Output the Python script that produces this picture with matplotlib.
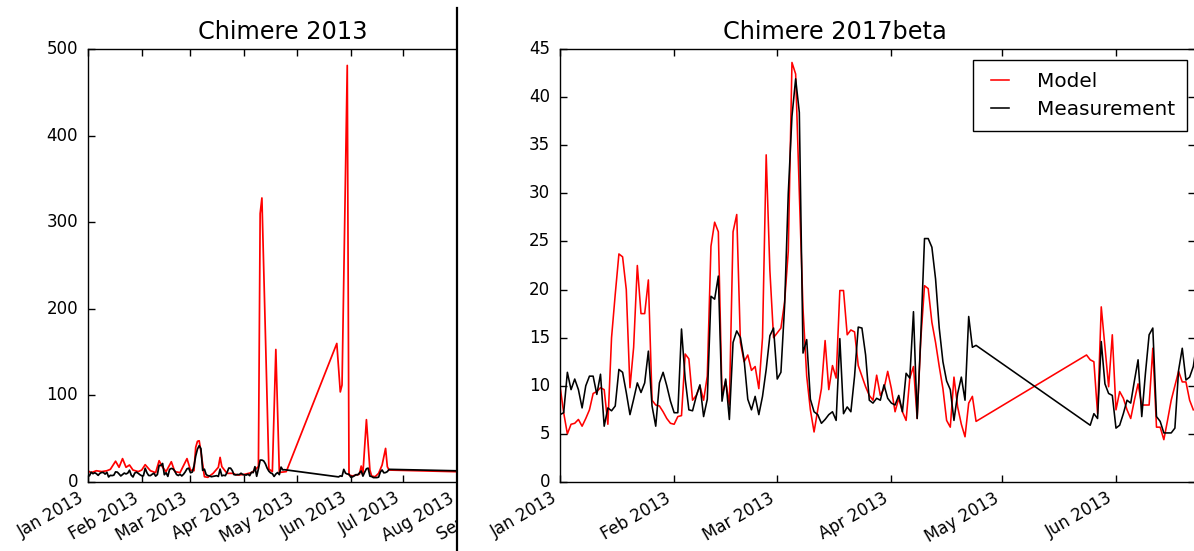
import numpy as np
import matplotlib
matplotlib.use("Agg")
import matplotlib.pyplot as plt
import matplotlib.dates as mdates
from matplotlib.patches import Rectangle
from matplotlib.lines import Line2D

# ---------------- data ----------------
START = np.datetime64("2013-01-01")

# Measurement (daily), first block starts on day 0 (1 Jan 2013)
meas_block1 = [
    7.0, 7.2, 11.4, 9.6, 10.7, 9.6, 7.7, 10.0, 11.0, 11.0,
    9.1, 11.2, 5.8, 7.7, 7.4, 7.9, 11.7, 11.4, 9.3, 7.0,
    8.6, 10.3, 9.3, 10.3, 13.6, 7.9, 5.8, 10.3, 11.4, 10.0,
    8.4, 7.2, 7.2, 15.9, 10.7, 7.5, 7.4, 8.9, 10.1, 6.8,
    8.6, 19.3, 19.0, 21.4, 8.4, 10.7, 6.5, 14.5, 15.7, 15.0,
    12.7, 8.6, 7.5, 8.9, 7.0, 8.9, 11.7, 15.2, 16.0, 10.7,
    11.4, 18.3, 30.0, 38.0, 41.9, 38.4, 13.4, 14.8, 8.6, 7.3,
    7.0, 6.1, 6.5, 7.0, 7.3, 6.4, 14.9, 7.1, 7.8, 7.3,
    11.0, 16.1, 16.0, 13.2, 8.5, 8.2, 8.7, 8.5, 10.1, 8.7,
    8.2, 8.0, 9.0, 7.3, 11.3, 10.8, 17.7, 6.6, 15.3, 25.3,
    25.3, 24.4, 21.1, 16.0, 12.5, 10.5, 9.6, 6.4, 9.2, 10.9,
    8.5, 17.2, 14.0, 14.2,
]
meas_block2_start = 144          # 25 May 2013
meas_block2 = [
    5.9, 7.1, 6.6, 14.6, 10.2, 9.2, 9.0, 5.6, 5.9, 7.1,
    8.5, 8.2, 10.5, 12.7, 6.8, 11.3, 15.3, 16.0, 6.8, 6.3,
    5.1, 5.1, 5.1, 5.6, 11.6, 13.9, 10.6, 10.9, 12.0, 14.6,
]
meas_last_day = 250
meas_last_value = 11.3

# Chimere 2017beta model (daily)
model17_block1 = [
    10.0, 7.2, 5.0, 6.0, 6.1, 6.5, 5.8, 6.6, 7.5, 9.2,
    9.4, 9.8, 9.6, 6.0, 15.0, 19.5, 23.7, 23.4, 20.0, 9.8,
    14.0, 22.5, 17.5, 17.5, 21.0, 8.5, 8.0, 7.9, 7.3, 6.6,
    6.1, 6.0, 6.8, 6.9, 13.3, 12.8, 8.5, 9.0, 10.0, 8.5,
    11.0, 24.5, 27.0, 26.0, 9.0, 10.5, 8.0, 26.0, 27.8, 14.5,
    12.5, 13.2, 11.6, 12.0, 9.7, 15.0, 34.0, 22.0, 15.0, 15.5,
    16.0, 18.7, 24.0, 43.6, 42.4, 30.0, 18.0, 11.0, 7.5, 5.2,
    7.5, 9.7, 14.7, 9.6, 12.1, 10.8, 19.9, 19.9, 15.3, 15.8,
    15.6, 12.1, 11.0, 9.9, 9.0, 8.5, 11.1, 9.0, 9.7, 11.5,
    9.7, 7.3, 8.7, 7.3, 6.4, 10.8, 12.0, 6.6, 14.9, 20.4,
    20.1, 16.6, 14.5, 12.0, 9.7, 6.4, 5.7, 10.9, 7.8, 6.0,
    4.7, 8.2, 8.9, 6.3,
]
model17_block2_start = 143       # 24 May 2013
model17_block2 = [
    13.2, 12.7, 12.5, 7.1, 18.2, 14.0, 9.9, 15.3, 7.5, 9.4,
    8.7, 7.5, 6.6, 8.5, 10.2, 8.0, 8.0, 8.0, 13.9, 5.7,
    5.7, 4.4, 6.4, 8.5, 10.0, 11.5, 10.4, 10.4, 8.5, 7.5,
]

# Chimere 2013 model (irregular samples: day offset from 1 Jan 2013, value)
model13_days = [0, 2, 5, 8, 11, 13, 16, 18, 20, 22, 24, 26, 29, 31, 33, 36, 39,
                41, 43, 45, 48, 50, 53, 57, 59, 61, 62, 63, 64, 65, 67, 69, 72,
                75, 76, 77, 80, 83, 86, 90, 94, 96, 98, 99, 100, 104, 106, 108,
                110, 114, 143, 145, 146, 149, 150, 152, 156, 157, 158, 160, 162,
                163, 165, 167, 169, 171, 172, 173, 250]
model13_values = [13, 10.8, 13, 12, 13, 14.6, 24, 17, 27, 17, 19.6, 13.8, 12,
                  13.8, 20, 13, 10.8, 24.6, 17, 12, 23.4, 12, 10.8, 27, 13.8, 13,
                  40, 47, 47.6, 35, 6.1, 5.4, 10, 17, 28.4, 17.7, 10, 10, 8, 8.8,
                  10.8, 13.8, 18, 310, 328, 15, 12, 153, 11, 12, 160, 104, 112,
                  481, 8, 7, 9, 18.4, 10, 72, 13.8, 6.9, 6.1, 10, 19.6, 38.8,
                  17.7, 13.8, 10.0]

titles = ["Chimere 2013", "Chimere 2017beta"]
legend_labels = ["Model", "Measurement"]
left_yticks = [0, 100, 200, 300, 400, 500]
right_yticks = [0, 5, 10, 15, 20, 25, 30, 35, 40, 45]


def day_dates(offsets):
    return START + np.asarray(offsets).astype("timedelta64[D]")


meas_days = (list(range(len(meas_block1)))
             + list(range(meas_block2_start, meas_block2_start + len(meas_block2)))
             + [meas_last_day])
meas_vals = meas_block1 + meas_block2 + [meas_last_value]
m17_days = (list(range(len(model17_block1)))
            + list(range(model17_block2_start, model17_block2_start + len(model17_block2))))
m17_vals = model17_block1 + model17_block2

meas_x = day_dates(meas_days)
m17_x = day_dates(m17_days)
m13_x = day_dates(model13_days)

# ---------------- figure ----------------
plt.style.use("classic")
plt.rcParams["font.family"] = ["DejaVu Sans"]
W, H = 1194, 551
fig = plt.figure(figsize=(W / 100, H / 100), dpi=100, facecolor="white")


def box(left_px, top_px, right_px, bottom_px):
    return [left_px / W, 1 - bottom_px / H, (right_px - left_px) / W, (bottom_px - top_px) / H]


x0 = mdates.date2num(START)

# left panel (partly hidden by the neighbour panel)
L_PXDAY = 1.742
L_LEFT = 87.7
L_DAYS = 260
ax1 = fig.add_axes(box(L_LEFT, 49, L_LEFT + L_DAYS * L_PXDAY, 482))
ax1.set_zorder(0)
ax1.plot(m13_x, model13_values, color="red", lw=1.25)
ax1.plot(meas_x, meas_vals, color="black", lw=1.25)
ax1.set_xlim(x0, x0 + L_DAYS)
ax1.set_ylim(0, 500)
ax1.set_yticks(left_yticks)
ax1.set_title(titles[0], fontsize=17.28, x=(282.5 - L_LEFT) / (L_DAYS * L_PXDAY), pad=7)

# right panel
R_LEFT, R_RIGHT = 560, 1195
R_DAYS = (R_RIGHT - R_LEFT) / 3.682
ax2 = fig.add_axes(box(R_LEFT, 49, R_RIGHT, 482))
ax2.set_zorder(2)
l1, = ax2.plot(m17_x, m17_vals, color="red", lw=1.15, label=legend_labels[0])
l2, = ax2.plot(meas_x, meas_vals, color="black", lw=1.15, label=legend_labels[1])
ax2.set_xlim(x0, x0 + R_DAYS)
ax2.set_ylim(0, 45)
ax2.set_yticks(right_yticks)
ax2.set_title(titles[1], fontsize=17.28, x=(834.5 - R_LEFT) / (R_RIGHT - R_LEFT), pad=7)

for ax in (ax1, ax2):
    ax.set_facecolor("white")
    ax.xaxis.set_major_locator(mdates.MonthLocator())
    ax.xaxis.set_major_formatter(mdates.DateFormatter("%b %Y"))
    ax.xaxis.set_minor_locator(matplotlib.ticker.NullLocator())
    ax.yaxis.set_minor_locator(matplotlib.ticker.NullLocator())
    ax.tick_params(direction="in", length=5, width=1, top=True, right=True,
                   labelsize=12, colors="black")
    ax.tick_params(axis="y", pad=7)
    ax.tick_params(axis="x", pad=5)
    plt.setp(ax.get_xticklabels(), rotation=30, ha="right")
    for sp in ax.spines.values():
        sp.set_linewidth(1.0)

leg_anchor = ((1187 - R_LEFT) / (R_RIGHT - R_LEFT), (482 - 60) / (482 - 49))
ax2.legend(handles=[l1, l2], loc="upper right", bbox_to_anchor=leg_anchor,
           borderaxespad=0, fontsize=14.4, frameon=True, fancybox=False,
           edgecolor="black", borderpad=0.6, labelspacing=0.45,
           handlelength=1.5, handletextpad=1.1, numpoints=2)

# white cover hiding the cropped part of the left panel, and separator line
fig.patches.append(Rectangle((457 / W, 0), 1 - 457 / W, 1, transform=fig.transFigure,
                             facecolor="white", edgecolor="none", zorder=1))
fig.lines.append(Line2D([456.5 / W, 456.5 / W], [0, 1 - 8 / H], transform=fig.transFigure,
                        color="black", lw=1.6, zorder=3))

fig.savefig("out.png", dpi=100, facecolor="white")
